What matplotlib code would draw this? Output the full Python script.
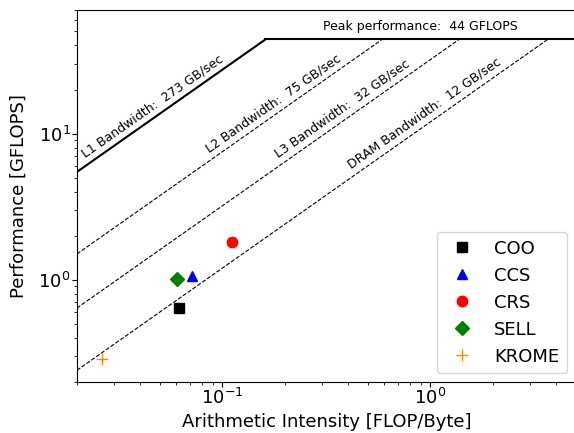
import numpy as np
import matplotlib
matplotlib.use("Agg")
import matplotlib.pyplot as plt

# machine limits
peak = 44.0  # GFLOPS
bw_names = ["L1", "L2", "L3", "DRAM"]
bw_values = [273, 75, 32, 12]  # GB/sec
bw_label_x = [0.048, 0.183, 0.392, 0.978]

# measured kernels
kernels = ["COO", "CCS", "CRS", "SELL", "KROME"]
intensity = [0.0622, 0.0718, 0.111, 0.0605, 0.0264]
perf = [0.644, 1.06, 1.82, 1.01, 0.289]
markers = ["s", "^", "o", "D", "+"]
sizes = [7, 7.5, 7.5, 7.5, 8.5]
colors = ["black", "blue", "red", "green", "darkorange"]

xmin, xmax = 0.02, 5.0
ymin, ymax = 0.2, 70.0

fig = plt.figure(figsize=(5.74, 4.33), dpi=100)
ax = fig.add_axes([0.134, 0.118, 0.869, 0.859])
ax.set_xscale("log")
ax.set_yscale("log")
ax.set_xlim(xmin, xmax)
ax.set_ylim(ymin, ymax)

# roofs
for i, (name, bw) in enumerate(zip(bw_names, bw_values)):
    ridge = peak / bw
    xs = np.array([xmin, ridge])
    if i == 0:
        ax.plot(xs, bw * xs, color="black", lw=1.5)
    else:
        ax.plot(xs, bw * xs, color="black", lw=0.8, ls="--")
    ax.text(bw_label_x[i], bw * bw_label_x[i] * 1.08,
            "%s Bandwidth:  %d GB/sec" % (name, bw),
            rotation=35, rotation_mode="anchor", ha="center", va="bottom",
            fontsize=9)

ax.plot([peak / bw_values[0], xmax], [peak, peak], color="black", lw=1.5)
ax.text(0.895, peak * 1.1, "Peak performance:  %d GFLOPS" % peak,
        ha="center", va="bottom", fontsize=9)

for k, x, y, m, s, c in zip(kernels, intensity, perf, markers, sizes, colors):
    ax.plot(x, y, ls="none", marker=m, color=c, markersize=s, label=k)

ax.legend(loc="lower right", fontsize=13, borderaxespad=0.5)
ax.set_xlabel("Arithmetic Intensity [FLOP/Byte]", fontsize=13, labelpad=4)
ax.set_ylabel("Performance [GFLOPS]", fontsize=13, labelpad=8)
ax.tick_params(labelsize=13)
ax.tick_params(axis="x", pad=0.5)
ax.tick_params(axis="y", pad=1)

fig.savefig("out.png", dpi=100)
